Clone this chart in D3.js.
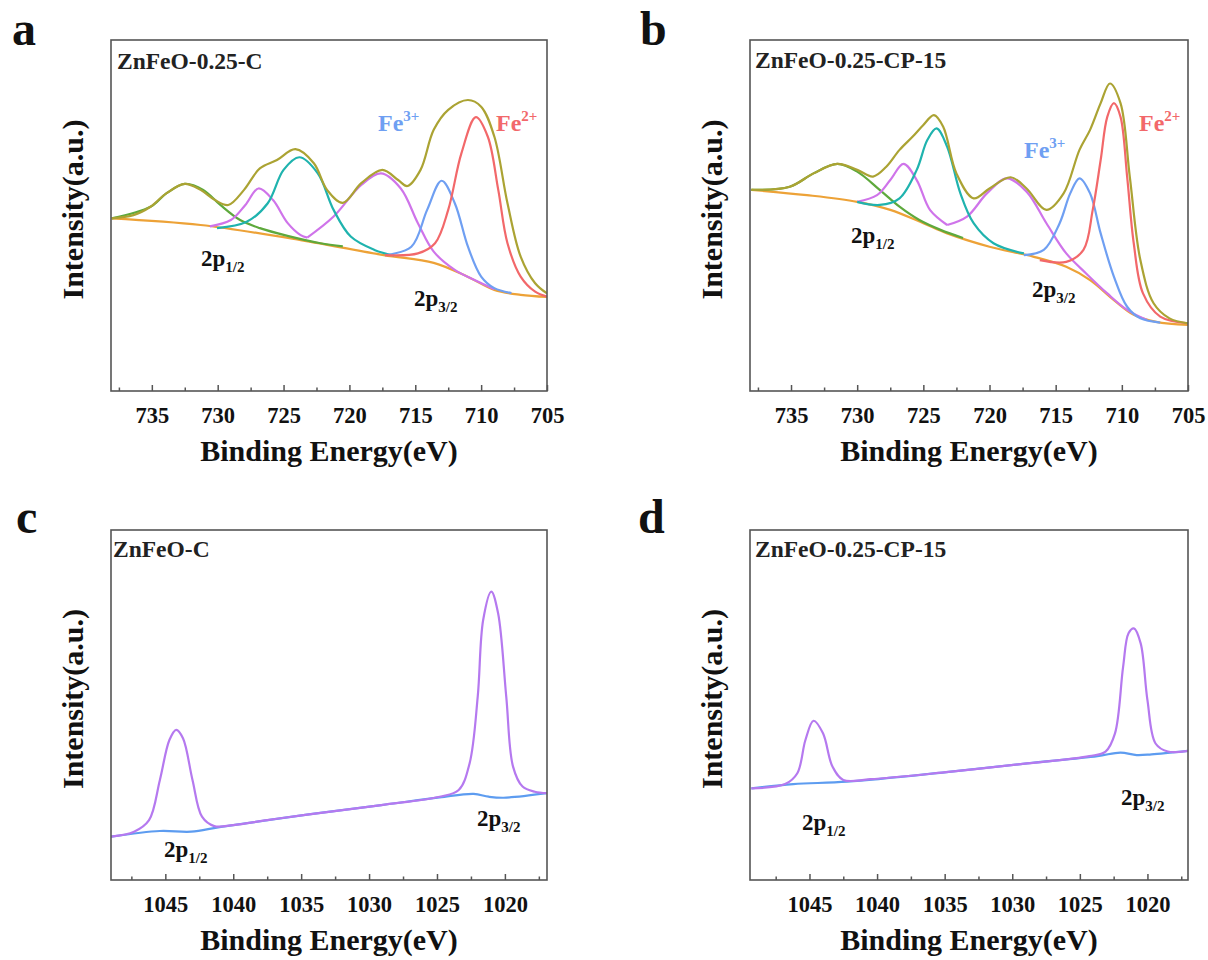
<!DOCTYPE html>
<html><head><meta charset="utf-8">
<script src="https://cdn.jsdelivr.net/npm/d3@7"></script>
<style>body{margin:0;background:#fff}</style>
</head><body>
<svg id="chart" width="1208" height="960"></svg>
<script>
// ---------- axis data ----------
const feDomainAB = [738.1, 705];
const znDomainC = [1049.0, 1016.9];
const znDomainD = [1049.4, 1017.0];
const feTicks = [735, 730, 725, 720, 715, 710, 705];
const feMinorTicks = [737.5, 732.5, 727.5, 722.5, 717.5, 712.5, 707.5];
const znTicks = [1045, 1040, 1035, 1030, 1025, 1020];
const znMinorTicks = [1047.5, 1042.5, 1037.5, 1032.5, 1027.5, 1022.5, 1017.5];

// ---------- panel a: Fe 2p, ZnFeO-0.25-C  ([binding energy, intensity]) ----------
const aBackground = [[738.05,49.2],[731.3,47.3],[723.7,43.0],[717.4,38.7],[713.6,36.5],[711.0,32.5],[709.0,28.8],[707.0,27.4],[705.0,26.8]];
const aSatellite = [[738.05,49.2],[735.1,52.5],[733.9,56.3],[732.5,59.0],[731.1,57.3],[729.8,53.0],[728.3,48.7],[726.8,46.4],[724.7,44.2],[722.2,42.1],[720.5,41.2]];
const aSat2p12 = [[730.6,46.9],[729.0,48.7],[727.9,53.0],[726.9,57.7],[725.8,54.4],[724.7,47.9],[723.7,44.4],[723.2,43.7]];
const aSat2p32 = [[723.2,43.7],[721.2,49.7],[719.1,58.7],[717.6,62.0],[716.1,57.7],[714.8,47.8],[713.6,39.7],[712.0,34.5],[710.5,31.6],[709.0,29.0]];
const aFe2p12 = [[730.05,46.4],[727.8,48.2],[726.2,53.5],[725.0,63.0],[723.8,66.6],[722.4,62.0],[721.2,51.6],[719.9,44.0],[718.1,40.2],[716.6,38.6]];
const aFe3 = [[717.3,38.7],[715.3,41.1],[714.1,51.6],[713.0,59.9],[712.0,53.5],[711.0,41.1],[710.0,32.6],[709.0,29.3],[707.7,27.9]];
const aFe2 = [[717.3,38.7],[714.8,39.2],[713.5,42.1],[712.5,51.6],[711.5,67.7],[710.4,78.0],[709.5,72.5],[708.7,57.3],[708.0,42.1],[707.0,32.6],[705.9,28.3],[705.0,26.9]];
const aEnvelope = [[738.05,49.2],[736.4,50.1],[735.1,52.5],[733.9,56.3],[732.5,59.0],[731.3,57.3],[730.2,54.4],[729.2,53.0],[728.0,57.3],[726.8,63.4],[725.5,65.8],[724.1,68.9],[722.7,64.9],[721.7,57.3],[720.5,53.6],[719.1,59.2],[717.5,63.0],[716.3,60.1],[715.6,58.4],[714.6,63.0],[713.6,74.4],[712.5,80.1],[711.0,82.9],[710.0,81.0],[709.0,72.5],[708.0,53.5],[707.0,38.3],[705.9,30.7],[705.0,27.8]];

// ---------- panel b: Fe 2p, ZnFeO-0.25-CP-15 ----------
const bBackground = [[738.0,57.3],[733.8,55.8],[730.0,53.9],[727.5,51.6],[725.0,47.8],[723.2,44.9],[720.0,41.1],[716.7,38.3],[714.2,35.4],[712.4,31.6],[710.6,25.9],[709.1,21.7],[707.4,19.7],[705.0,18.8]];
const bSatellite = [[738.0,57.3],[735.1,58.2],[733.3,62.0],[731.5,64.7],[730.0,62.5],[728.3,57.3],[726.8,52.5],[725.3,48.7],[723.7,45.9],[722.0,43.6]];
const bSat2p12 = [[730.0,53.9],[728.5,55.8],[727.5,60.1],[726.5,64.7],[725.5,60.1],[724.5,51.6],[723.2,47.3]];
const bSat2p32 = [[723.2,47.3],[721.7,49.7],[720.2,56.3],[718.7,60.6],[717.2,56.8],[715.7,47.8],[714.2,39.2],[712.7,33.5],[711.1,27.8],[709.6,23.1],[708.1,20.2]];
const bFe2p12 = [[730.0,53.9],[728.3,53.0],[726.8,54.9],[725.5,63.0],[724.7,71.5],[724.0,74.8],[723.2,69.6],[722.2,56.3],[721.2,47.8],[719.7,42.1],[717.4,39.2]];
const bFe3 = [[717.4,38.7],[715.9,40.2],[714.7,47.8],[713.9,56.3],[713.2,60.6],[712.4,56.3],[711.6,44.9],[710.6,32.6],[709.6,24.0],[708.6,20.7],[707.1,19.5]];
const bFe2 = [[716.2,37.3],[714.2,36.8],[712.9,40.2],[712.2,51.6],[711.6,65.8],[711.1,78.1],[710.6,82.0],[710.1,78.1],[709.6,61.1],[709.1,42.1],[708.4,27.8],[707.1,21.2],[705.0,19.3]];
const bEnvelope = [[738.0,57.3],[735.1,58.2],[733.3,62.0],[731.5,64.7],[730.0,63.0],[728.8,61.1],[727.8,63.9],[726.8,68.7],[725.8,72.5],[725.0,75.8],[724.2,78.6],[723.5,75.3],[722.5,62.0],[721.2,54.9],[720.0,57.7],[718.4,60.9],[717.2,57.7],[715.7,51.6],[714.4,56.3],[713.2,68.7],[712.4,74.4],[711.6,82.0],[710.9,87.6],[710.1,82.0],[709.4,61.1],[708.6,37.3],[707.6,25.0],[706.4,20.7],[705.0,19.3]];

// ---------- panel c: Zn 2p, ZnFeO-C ----------
const cBackground = [[1049.0,12.4],[1045.4,14.0],[1043.1,13.8],[1040.9,15.2],[1034.7,18.6],[1029.1,21.4],[1024.8,23.6],[1022.3,24.6],[1021.2,23.8],[1020.1,23.5],[1016.9,24.8]];
const cEnvelope = [[1049.0,12.4],[1047.3,13.8],[1046.2,17.1],[1045.4,28.6],[1044.7,40.0],[1044.2,42.9],[1043.7,40.5],[1043.0,28.6],[1042.3,18.1],[1041.4,15.4],[1040.0,15.7],[1037.5,17.1],[1034.7,18.6],[1029.1,21.4],[1024.8,23.8],[1023.4,25.7],[1022.6,33.3],[1022.0,52.4],[1021.6,74.3],[1021.0,82.4],[1020.5,76.2],[1019.9,52.4],[1019.4,32.4],[1018.7,26.7],[1017.8,25.2],[1016.9,24.8]];

// ---------- panel d: Zn 2p, ZnFeO-0.25-CP-15 ----------
const dBackground = [[1049.3,26.2],[1046.2,27.4],[1042.2,28.1],[1034.7,30.9],[1028.9,33.3],[1023.7,35.4],[1022.0,36.4],[1020.8,35.7],[1019.7,35.9],[1017.0,36.9]];
const dEnvelope = [[1049.3,26.2],[1046.8,27.4],[1045.9,30.5],[1045.3,40.0],[1044.7,45.5],[1044.0,41.9],[1043.3,32.4],[1042.5,28.6],[1040.5,28.8],[1034.7,30.9],[1028.9,33.3],[1024.3,35.4],[1023.1,36.7],[1022.4,41.9],[1021.8,60.9],[1021.4,70.5],[1021.0,71.9],[1020.5,67.6],[1020.0,51.4],[1019.4,39.0],[1018.5,36.7],[1017.0,36.9]];

// ---------- styles ----------
const C = {
  olive:'#aba333', orange:'#eda237', green:'#5ea93c', magenta:'#cf74ea',
  cyan:'#1fb3ae', blue:'#6f9ff2', red:'#f2686a', purple:'#b579ef', znBlue:'#5d9cf0'
};
const serif = '"Liberation Serif","Times New Roman",serif';

const panels = [
  {letter:'a', lx:12, ly:45, box:[111,40,547,391], domain:feDomainAB, ticks:feTicks, minor:feMinorTicks,
   sample:'ZnFeO-0.25-C', sx:117, sy:69,
   series:[[aBackground,C.orange],[aSatellite,C.green],[aSat2p12,C.magenta],[aSat2p32,C.magenta],[aFe2p12,C.cyan],[aFe3,C.blue],[aFe2,C.red],[aEnvelope,C.olive]],
   fe:[[378,131,'3+',C.blue],[496,131,'2+',C.red]], p:[[201,266,'1/2'],[414,306,'3/2']]},
  {letter:'b', lx:640, ly:45, box:[750,40,1188,391], domain:feDomainAB, ticks:feTicks, minor:feMinorTicks,
   sample:'ZnFeO-0.25-CP-15', sx:755, sy:68,
   series:[[bBackground,C.orange],[bSatellite,C.green],[bSat2p12,C.magenta],[bSat2p32,C.magenta],[bFe2p12,C.cyan],[bFe3,C.blue],[bFe2,C.red],[bEnvelope,C.olive]],
   fe:[[1024,158,'3+',C.blue],[1139,131,'2+',C.red]], p:[[851,243,'1/2'],[1032,297,'3/2']]},
  {letter:'c', lx:16, ly:533, box:[111,530,547,880], domain:znDomainC, ticks:znTicks, minor:znMinorTicks,
   sample:'ZnFeO-C', sx:113, sy:557,
   series:[[cBackground,C.znBlue],[cEnvelope,C.purple]],
   fe:[], p:[[164,857,'1/2'],[477,826,'3/2']]},
  {letter:'d', lx:638, ly:533, box:[750,530,1188,880], domain:znDomainD, ticks:znTicks, minor:znMinorTicks,
   sample:'ZnFeO-0.25-CP-15', sx:755, sy:557,
   series:[[dBackground,C.znBlue],[dEnvelope,C.purple]],
   fe:[], p:[[802,830,'1/2'],[1121,805,'3/2']]}
];

const svg = d3.select('#chart');
svg.append('rect').attr('width',1208).attr('height',960).attr('fill','#fff');

panels.forEach(P => {
  const [L,T,R,B] = P.box;
  const x = d3.scaleLinear().domain(P.domain).range([L,R]);
  const y = d3.scaleLinear().domain([0,100]).range([B,T]);
  const g = svg.append('g');

  // curves
  const line = d3.line().x(d=>x(d[0])).y(d=>y(d[1])).curve(d3.curveCatmullRom.alpha(0.5));
  const clipId = 'clip'+P.letter;
  g.append('clipPath').attr('id',clipId).append('rect').attr('x',L).attr('y',T).attr('width',R-L).attr('height',B-T);
  const cg = g.append('g').attr('clip-path',`url(#${clipId})`);
  P.series.forEach(([data,col]) => {
    cg.append('path').datum(data).attr('d',line).attr('fill','none')
      .attr('stroke',col).attr('stroke-width',2.2).attr('stroke-linejoin','round');
  });

  // bottom axis, inward ticks
  const ax = g.append('g').attr('transform',`translate(0,${B})`)
    .call(d3.axisBottom(x).tickValues(P.ticks).tickSize(-6).tickPadding(0).tickFormat(d3.format('d')));
  ax.select('.domain').remove();
  ax.selectAll('.tick line').attr('stroke','#555').attr('stroke-width',1.5);
  ax.selectAll('.tick text').attr('y',32).attr('dy',null)
    .attr('font-family',serif).attr('font-weight','bold').attr('font-size',22.5).attr('fill','#111');
  const mx = g.append('g').attr('transform',`translate(0,${B})`)
    .call(d3.axisBottom(x).tickValues(P.minor).tickSize(-3.5).tickFormat(''));
  mx.select('.domain').remove();
  mx.selectAll('.tick line').attr('stroke','#555').attr('stroke-width',1.5);

  // frame
  g.append('rect').attr('x',L).attr('y',T).attr('width',R-L).attr('height',B-T)
    .attr('fill','none').attr('stroke','#555').attr('stroke-width',1.6);

  // titles
  g.append('text').attr('x',(L+R)/2).attr('y',B+70).attr('text-anchor','middle')
    .attr('font-family',serif).attr('font-weight','bold').attr('font-size',30).attr('fill','#111')
    .text('Binding Energy(eV)');
  g.append('text').attr('transform',`translate(${L-28},${(T+B)/2 - 6}) rotate(-90)`).attr('text-anchor','middle')
    .attr('font-family',serif).attr('font-weight','bold').attr('font-size',30).attr('fill','#111')
    .text('Intensity(a.u.)');

  // panel letter
  svg.append('text').attr('x',P.lx).attr('y',P.ly).attr('font-family',serif).attr('font-weight','bold')
    .attr('font-size',48).attr('fill','#111').text(P.letter);

  // sample label
  g.append('text').attr('x',P.sx).attr('y',P.sy).attr('font-family',serif).attr('font-weight','bold')
    .attr('font-size',23.5).attr('fill','#222').text(P.sample);

  // Fe labels
  P.fe.forEach(([fx,fy,sup,col]) => {
    const t = g.append('text').attr('x',fx).attr('y',fy).attr('font-family',serif).attr('font-weight','bold')
      .attr('font-size',24).attr('fill',col);
    t.append('tspan').text('Fe');
    t.append('tspan').attr('font-size',15).attr('dy',-10).text(sup);
  });
  // 2p labels
  P.p.forEach(([px,py,sub]) => {
    const t = g.append('text').attr('x',px).attr('y',py).attr('font-family',serif).attr('font-weight','bold')
      .attr('font-size',23).attr('fill','#111');
    t.append('tspan').text('2p');
    t.append('tspan').attr('font-size',15).attr('dy',6).text(sub);
  });
});
</script>
</body></html>
